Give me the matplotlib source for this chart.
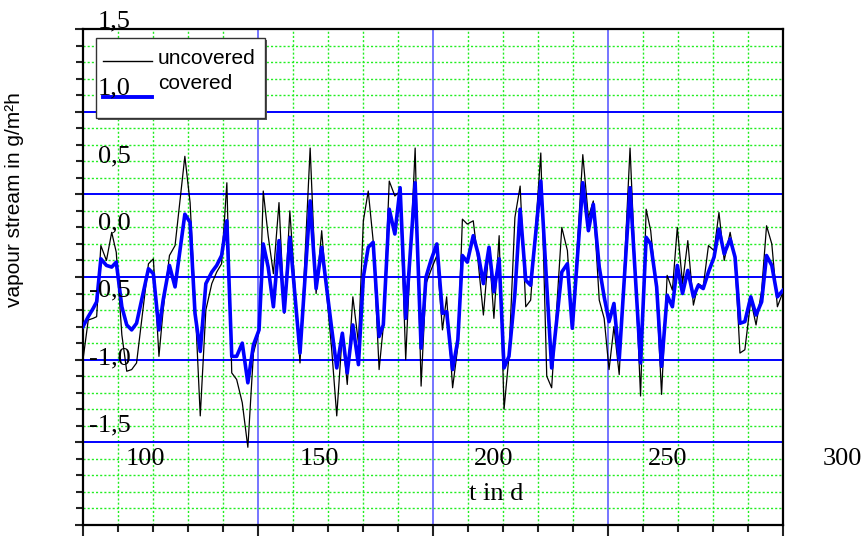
import matplotlib
matplotlib.use('Agg')
import matplotlib.pyplot as plt
from matplotlib.patches import Rectangle
from matplotlib.ticker import MultipleLocator

# day (t in d)
t = [100.0, 101.5, 102.9, 103.9, 105.1, 106.7, 108.2, 109.5, 111.1, 112.5,
     113.9, 115.3, 118.7, 120.1, 121.7, 122.9, 124.7, 126.3, 129.1, 130.6,
     132.0, 133.5, 135.1, 136.8, 138.2, 139.6, 141.1, 142.5, 143.9, 145.5,
     147.1, 148.7, 150.3, 151.5, 152.9, 154.4, 156.0, 157.5, 159.1, 162.0,
     164.9, 166.6, 168.2, 169.7, 171.1, 172.5, 174.1, 175.5, 177.1, 178.7,
     180.1, 181.5, 182.9, 184.6, 185.8, 187.5, 189.1, 190.6, 192.2, 194.9,
     196.6, 198.0, 199.4, 201.1, 202.7, 203.9, 205.6, 207.1, 208.4, 209.8,
     211.5, 212.9, 214.4, 216.0, 217.4, 218.9, 220.3, 221.7, 223.4, 224.9,
     226.5, 227.9, 230.8, 232.5, 233.9, 236.8, 238.4, 239.8, 242.8, 244.4,
     245.8, 247.5, 248.9, 250.3, 251.7, 253.2, 256.3, 259.3, 260.9, 262.2,
     263.9, 265.3, 266.9, 268.4, 269.8, 271.3, 272.8, 274.4, 275.8, 277.2,
     278.7, 280.3, 281.7, 283.2, 284.9, 286.3, 287.7, 289.1, 290.8, 292.3,
     293.9, 295.3, 296.8, 298.4, 300.0]

uncovered = [-0.50, -0.26, -0.25, -0.24, 0.19, 0.10, 0.27, 0.15, -0.35, -0.57,
             -0.56, -0.52, 0.08, 0.11, -0.48, -0.20, 0.13, 0.19, 0.73, 0.45,
             -0.15, -0.84, -0.20, -0.04, 0.03, 0.08, 0.57, -0.58, -0.62, -0.76,
             -1.03, -0.46, -0.33, 0.52, 0.25, 0.02, 0.45, -0.22, 0.40, -0.52,
             0.78, -0.10, 0.28, -0.12, -0.45, -0.84, -0.34, -0.65, -0.12, -0.40,
             0.34, 0.52, 0.22, -0.56, -0.30, 0.58, 0.49, 0.52, -0.50, 0.78,
             -0.66, -0.04, 0.04, 0.13, -0.32, -0.12, -0.67, -0.42, 0.35, 0.32,
             0.34, 0.09, -0.23, 0.18, -0.25, 0.25, -0.80, -0.48, 0.36, 0.55,
             -0.18, -0.14, 0.75, -0.60, -0.67, 0.30, 0.16, -0.31, 0.74, 0.36,
             0.46, -0.14, -0.25, -0.56, -0.30, -0.59, 0.78, -0.72, 0.41, 0.28,
             -0.10, -0.71, 0.01, -0.08, 0.30, -0.04, 0.22, -0.17, -0.04, -0.06,
             0.19, 0.16, 0.39, 0.10, 0.27, 0.10, -0.46, -0.44, -0.14, -0.29,
             -0.08, 0.31, 0.20, -0.18, -0.09]

covered = [-0.30, -0.24, -0.19, -0.15, 0.11, 0.07, 0.06, 0.09, -0.18, -0.29,
           -0.32, -0.28, 0.05, 0.02, -0.32, -0.14, 0.07, -0.06, 0.38, 0.33,
           -0.22, -0.45, -0.04, 0.03, 0.07, 0.13, 0.34, -0.48, -0.48, -0.40,
           -0.64, -0.41, -0.32, 0.20, 0.06, -0.18, 0.22, -0.21, 0.24, -0.46,
           0.46, -0.07, 0.18, -0.08, -0.32, -0.55, -0.34, -0.58, -0.29, -0.53,
           0.00, 0.18, 0.21, -0.36, -0.29, 0.41, 0.26, 0.54, -0.25, 0.57,
           -0.43, 0.00, 0.10, 0.20, -0.22, -0.21, -0.56, -0.38, 0.13, 0.09,
           0.25, 0.14, -0.04, 0.18, -0.09, 0.11, -0.55, -0.48, -0.10, 0.41,
           -0.02, -0.05, 0.58, -0.05, -0.55, 0.03, 0.08, -0.31, 0.57, 0.28,
           0.44, 0.06, -0.12, -0.27, -0.16, -0.50, 0.54, -0.52, 0.24, 0.20,
           -0.06, -0.54, -0.11, -0.18, 0.07, -0.10, 0.04, -0.12, -0.05, -0.07,
           0.03, 0.12, 0.29, 0.14, 0.23, 0.12, -0.28, -0.27, -0.12, -0.23,
           -0.15, 0.13, 0.07, -0.12, -0.08]

xticks = [100, 150, 200, 250, 300]
xtick_labels = ['100', '150', '200', '250', '300']
yticks = [1.5, 1.0, 0.5, 0.0, -0.5, -1.0, -1.5]
ytick_labels = ['1,5', '1,0', '0,5', '0,0', '-0,5', '-1,0', '-1,5']

serif = ['Liberation Serif', 'DejaVu Serif']
sans = ['Liberation Sans', 'DejaVu Sans']

fig = plt.figure(figsize=(8.65, 5.37), dpi=100)
ax = fig.add_axes([83 / 865, 12 / 537, 700 / 865, 496 / 537])
ax.set_xlim(100, 300)
ax.set_ylim(-1.5, 1.5)

ax.xaxis.set_major_locator(MultipleLocator(50))
ax.xaxis.set_minor_locator(MultipleLocator(10))
ax.yaxis.set_major_locator(MultipleLocator(0.5))
ax.yaxis.set_minor_locator(MultipleLocator(0.1))

# grid: green dotted minor, blue major
ax.set_axisbelow(True)
ax.xaxis.grid(True, which='minor', color='#22ee22', linestyle=(0, (1.5, 1.5)), linewidth=1.0)
ax.yaxis.grid(True, which='minor', color='#22ee22', linestyle=(0, (1.5, 1.5)), linewidth=1.0)
ax.xaxis.grid(True, which='major', color='#5050ff', linewidth=1.1)
ax.yaxis.grid(True, which='major', color='#0000ff', linewidth=1.4)

ax.tick_params(which='both', direction='out', top=False, right=False,
               labelleft=False, labelbottom=False, color='#222222', width=1.5)
ax.tick_params(axis='y', which='major', length=6)
ax.tick_params(axis='y', which='minor', length=5)
ax.tick_params(axis='x', which='major', length=8)
ax.tick_params(axis='x', which='minor', length=5)
for s in ax.spines.values():
    s.set_linewidth(1.6)
    s.set_color('black')

ax.plot(t, uncovered, color='black', linewidth=0.9, zorder=3)
ax.plot(t, covered, color='#0000ff', linewidth=2.6, zorder=4)

# legend box (drawn by hand, as in the original)
ax.add_patch(Rectangle((0.0215, 0.8166), 0.2414, 0.1613, transform=ax.transAxes,
                       facecolor='#555555', edgecolor='none', zorder=5))
ax.add_patch(Rectangle((0.0186, 0.8206), 0.2414, 0.1613, transform=ax.transAxes,
                       facecolor='white', edgecolor='#333333', linewidth=1.0, zorder=5))
ax.plot([0.0286, 0.0986], [0.9355, 0.9355], transform=ax.transAxes,
        color='black', linewidth=1.0, zorder=6)
ax.plot([0.0286, 0.0986], [0.8629, 0.8629], transform=ax.transAxes,
        color='#0000ff', linewidth=2.8, zorder=6)
ax.text(0.107, 0.9415, 'uncovered', transform=ax.transAxes, ha='left', va='center',
        family=sans, fontsize=15, zorder=6)
ax.text(0.107, 0.8911, 'covered', transform=ax.transAxes, ha='left', va='center',
        family=sans, fontsize=15, zorder=6)

# tick labels, drawn shifted as in the original
for v, lab in zip(yticks, ytick_labels):
    ax.text(0.0686, 0.200 + (v + 1.5) / 3 * 0.816, lab, transform=ax.transAxes,
            ha='right', va='center', family=serif, fontsize=19, zorder=7)
for x, lab in zip(xticks, xtick_labels):
    ax.text(0.0886 + (x - 100) / 200 * 0.996, 0.133, lab, transform=ax.transAxes,
            ha='center', va='center', family=serif, fontsize=19, zorder=7, clip_on=False)
ax.text(0.5907, 0.0625, 't in d', transform=ax.transAxes, ha='center', va='center',
        family=serif, fontsize=19, zorder=7)

fig.text(15 / 865, 1 - 200 / 537, 'vapour stream in g/m²h', rotation=90,
         ha='center', va='center', family=sans, fontsize=15)

fig.savefig('out.png', dpi=100)
